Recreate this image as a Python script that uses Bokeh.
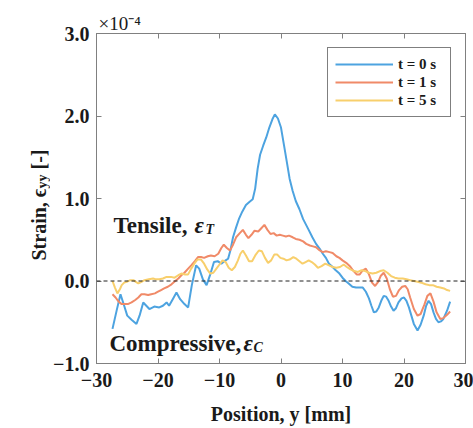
from math import pi
from bokeh.plotting import figure
from bokeh.layouts import row
from bokeh.models import (Range1d, FixedTicker, CustomJSTickFormatter, LinearAxis,
                          Span, Label)
from bokeh.embed import file_html
from bokeh.resources import INLINE

# ---------------- data (strain in units of 1e-4) ----------------
pos_t0 = [-27.4, -26.7, -26.1, -25.5, -25.0, -24.3, -23.5, -23.0, -22.4, -21.9,
          -21.4, -20.6, -19.8, -19.2, -18.6, -18.2, -17.6, -17.0, -16.4, -15.7,
          -15.1, -14.5, -13.8, -13.3, -12.7, -12.1, -11.5, -10.9, -10.3, -9.7,
          -9.2, -8.6, -8.2, -7.8, -7.3, -6.8, -6.3, -5.7, -5.1, -4.6,
          -4.2, -3.8, -3.4, -2.9, -2.4, -1.9, -1.4, -1.0, -0.5, 0.0,
          0.5, 1.0, 1.4, 1.9, 2.4, 3.0, 3.6, 4.5, 5.1, 5.7,
          6.3, 6.8, 7.3, 7.8, 8.4, 8.9, 9.5, 10.0, 10.5, 11.0,
          11.6, 12.2, 12.8, 13.3, 13.8, 14.3, 14.7, 15.1, 15.5, 15.9,
          16.3, 16.7, 17.1, 17.5, 17.9, 18.3, 18.7, 19.1, 19.6, 20.0,
          20.4, 20.8, 21.2, 21.6, 22.2, 22.7, 23.2, 23.6, 24.0, 24.4,
          24.8, 25.2, 25.6, 26.0, 26.4, 27.0, 27.5]
strain_t0 = [-0.58, -0.35, -0.16, -0.30, -0.42, -0.47, -0.52, -0.42, -0.26, -0.30,
             -0.34, -0.31, -0.32, -0.30, -0.26, -0.30, -0.22, -0.14, -0.22, -0.28,
             -0.32, -0.05, 0.19, 0.15, 0.02, -0.05, 0.08, 0.23, 0.24, 0.21,
             0.24, 0.27, 0.38, 0.53, 0.65, 0.76, 0.84, 0.92, 0.96, 0.99,
             1.12, 1.36, 1.53, 1.64, 1.74, 1.86, 1.96, 2.02, 1.97, 1.86,
             1.64, 1.42, 1.24, 1.09, 0.97, 0.87, 0.75, 0.62, 0.53, 0.45,
             0.39, 0.33, 0.28, 0.21, 0.17, 0.13, 0.09, 0.04, 0.00, -0.03,
             -0.07, -0.08, -0.08, -0.08, -0.13, -0.21, -0.30, -0.38, -0.37, -0.32,
             -0.24, -0.18, -0.19, -0.24, -0.31, -0.36, -0.33, -0.26, -0.21, -0.20,
             -0.24, -0.32, -0.42, -0.52, -0.60, -0.53, -0.42, -0.30, -0.24, -0.28,
             -0.38, -0.46, -0.50, -0.49, -0.46, -0.36, -0.25]

pos_t1 = [-27.4, -26.9, -26.4, -25.9, -25.5, -24.9, -24.3, -23.7, -23.2, -22.7,
          -22.2, -21.6, -21.1, -20.5, -20.0, -19.5, -19.0, -18.4, -17.8, -17.2,
          -16.7, -16.2, -15.7, -15.1, -14.6, -14.0, -13.5, -13.0, -12.5, -11.9,
          -11.4, -10.8, -10.2, -9.7, -9.3, -8.8, -8.3, -7.8, -7.3, -6.7,
          -6.2, -5.7, -5.3, -4.8, -4.3, -3.7, -3.2, -2.7, -2.2, -1.7,
          -1.2, -0.7, -0.2, 0.3, 0.8, 1.3, 1.9, 2.4, 3.0, 3.6,
          4.1, 4.7, 5.2, 5.7, 6.3, 6.8, 7.3, 7.9, 8.4, 9.0,
          9.5, 10.0, 10.6, 11.2, 11.7, 12.3, 12.8, 13.3, 13.8, 14.3,
          14.8, 15.3, 15.8, 16.2, 16.7, 17.2, 17.7, 18.2, 18.7, 19.2,
          19.7, 20.2, 20.6, 21.0, 21.6, 22.2, 22.7, 23.3, 23.8, 24.3,
          24.8, 25.3, 25.9, 26.4, 27.0, 27.5]
strain_t1 = [-0.16, -0.20, -0.25, -0.28, -0.28, -0.28, -0.26, -0.23, -0.20, -0.16,
             -0.16, -0.17, -0.16, -0.15, -0.13, -0.11, -0.09, -0.07, -0.04, 0.00,
             0.03, 0.07, 0.10, 0.15, 0.19, 0.24, 0.29, 0.29, 0.28, 0.30,
             0.31, 0.30, 0.33, 0.40, 0.44, 0.40, 0.37, 0.44, 0.53, 0.58,
             0.62, 0.56, 0.52, 0.56, 0.61, 0.60, 0.64, 0.68, 0.62, 0.57,
             0.58, 0.55, 0.56, 0.55, 0.54, 0.55, 0.53, 0.51, 0.50, 0.48,
             0.45, 0.43, 0.42, 0.41, 0.37, 0.35, 0.36, 0.35, 0.34, 0.30,
             0.28, 0.25, 0.22, 0.18, 0.13, 0.08, 0.08, 0.13, 0.15, 0.08,
             -0.02, -0.06, -0.01, 0.06, 0.10, 0.03, -0.10, -0.19, -0.18, -0.11,
             -0.07, -0.06, -0.10, -0.20, -0.34, -0.42, -0.40, -0.29, -0.18, -0.15,
             -0.25, -0.38, -0.46, -0.45, -0.41, -0.37]

pos_t5 = [-27.4, -27.0, -26.6, -26.2, -25.9, -25.5, -25.1, -24.5, -24.0, -23.6,
          -23.2, -22.7, -22.2, -21.5, -20.8, -20.3, -19.8, -19.2, -18.6, -17.9,
          -17.3, -16.7, -16.2, -15.6, -15.1, -14.6, -14.1, -13.6, -13.0, -12.5,
          -12.0, -11.5, -11.0, -10.5, -10.0, -9.5, -9.0, -8.5, -8.0, -7.5,
          -7.0, -6.6, -6.2, -5.7, -5.2, -4.7, -4.1, -3.6, -3.1, -2.6,
          -2.1, -1.6, -1.1, -0.6, -0.1, 0.4, 0.9, 1.4, 2.0, 2.5,
          3.0, 3.5, 4.0, 4.5, 5.0, 5.5, 6.0, 6.6, 7.2, 7.8,
          8.4, 9.0, 9.6, 10.2, 10.7, 11.3, 11.9, 12.5, 13.1, 13.7,
          14.3, 14.9, 15.5, 16.1, 16.7, 17.3, 17.9, 18.5, 19.1, 19.8,
          20.4, 21.0, 21.6, 22.2, 22.8, 23.5, 24.1, 24.7, 25.3, 25.9,
          26.5, 27.0, 27.5]
strain_t5 = [0.00, -0.08, -0.15, -0.10, -0.05, -0.02, -0.01, 0.01, 0.01, -0.01,
             -0.03, -0.01, 0.01, 0.02, 0.03, 0.02, 0.02, 0.03, 0.05, 0.05,
             0.04, 0.07, 0.09, 0.08, 0.08, 0.15, 0.21, 0.26, 0.26, 0.21,
             0.14, 0.09, 0.10, 0.15, 0.20, 0.25, 0.23, 0.16, 0.13, 0.17,
             0.25, 0.33, 0.37, 0.31, 0.24, 0.24, 0.32, 0.37, 0.36, 0.28,
             0.22, 0.25, 0.32, 0.32, 0.28, 0.27, 0.25, 0.26, 0.29, 0.27,
             0.24, 0.21, 0.23, 0.25, 0.23, 0.20, 0.16, 0.18, 0.21, 0.19,
             0.17, 0.16, 0.17, 0.20, 0.17, 0.14, 0.12, 0.11, 0.13, 0.12,
             0.10, 0.09, 0.10, 0.12, 0.13, 0.10, 0.06, 0.04, 0.03, 0.03,
             0.02, 0.01, 0.00, -0.01, -0.02, -0.04, -0.05, -0.05, -0.07, -0.08,
             -0.09, -0.11, -0.12]

series_labels = ["t = 0 s", "t = 1 s", "t = 5 s"]
x_ticks = [-30, -20, -10, 0, 10, 20, 30]
y_ticks = [-1, 0, 1, 2, 3]

# ---------------- styling ----------------
SERIF = "Liberation Serif"
TXT = "#1a1a1a"
AX = "#808080"
COLORS = ["#4da3e0", "#f08a68", "#f8cf6c"]
LEFT_W = 50
W, H = 473, 428
FRAME_TOP, FRAME_BOTTOM = 33, 363   # frame edges in page pixels

p = figure(width=W - LEFT_W, height=H, output_backend="svg", toolbar_location=None,
           x_range=Range1d(-30, 30), y_range=Range1d(-1, 3),
           title="\u00d710\u207b\u2074",
           min_border_left=95 - LEFT_W, min_border_right=8, min_border_top=FRAME_TOP,
           min_border_bottom=H - FRAME_BOTTOM, background_fill_color="white",
           border_fill_color="white")
p.title.align = "left"
p.title.offset = 2
p.title.standoff = 0
p.title.text_font = SERIF
p.title.text_font_style = "normal"
p.title.text_font_size = "19px"
p.title.text_color = TXT
p.xgrid.visible = False
p.ygrid.visible = False
p.outline_line_color = AX
p.outline_line_width = 1

xfmt = CustomJSTickFormatter(code="return (tick < 0 ? '\\u2212' : '') + Math.abs(tick).toFixed(0);")
yfmt = CustomJSTickFormatter(code="return (tick < 0 ? '\\u2212' : '') + Math.abs(tick).toFixed(1);")

def style_axis(ax, show_labels=True):
    ax.axis_line_color = AX
    ax.major_tick_line_color = AX
    ax.major_tick_in = 5
    ax.major_tick_out = 0
    ax.minor_tick_line_color = None
    if show_labels:
        ax.major_label_text_font = SERIF
        ax.major_label_text_font_style = "bold"
        ax.major_label_text_font_size = "20px"
        ax.major_label_text_color = TXT
    else:
        ax.major_label_text_font_size = "0px"
        ax.major_label_text_color = None
        ax.major_label_standoff = 0

xa = p.xaxis[0]
xa.ticker = FixedTicker(ticks=x_ticks)
xa.formatter = xfmt
style_axis(xa)
xa.major_label_standoff = 9
xa.axis_label = "Position, y [mm]"
xa.axis_label_text_font = SERIF
xa.axis_label_text_font_style = "bold"
xa.axis_label_text_font_size = "20px"
xa.axis_label_text_color = TXT
xa.axis_label_standoff = 13

ya = p.yaxis[0]
ya.ticker = FixedTicker(ticks=y_ticks)
ya.formatter = yfmt
style_axis(ya)
ya.major_label_standoff = 7

top = LinearAxis(ticker=FixedTicker(ticks=x_ticks))
style_axis(top, False)
p.add_layout(top, "above")
right = LinearAxis(ticker=FixedTicker(ticks=y_ticks))
style_axis(right, False)
p.add_layout(right, "right")

p.add_layout(Span(location=0, dimension="width", line_color="#222222",
                  line_dash="4 3", line_width=1))

for xs, ys, c, lab in zip([pos_t0, pos_t1, pos_t5], [strain_t0, strain_t1, strain_t5],
                          COLORS, series_labels):
    p.line(xs, ys, line_color=c, line_width=2, legend_label=lab)

lg = p.legend[0]
lg.location = "top_right"
lg.margin = 14
lg.padding = 7
lg.spacing = 0
lg.glyph_width = 58
lg.glyph_height = 18
lg.label_height = 18
lg.label_width = 45
lg.label_standoff = 5
lg.label_text_font = SERIF
lg.label_text_font_style = "bold"
lg.label_text_font_size = "15px"
lg.label_text_color = TXT
lg.border_line_color = "black"
lg.border_line_width = 1
lg.background_fill_color = "white"
lg.background_fill_alpha = 1.0

def lab(fig, x, y, text, size, style="bold", angle=0, xo=0):
    fig.add_layout(Label(x=x, y=y, text=text, text_font=SERIF, text_font_style=style,
                         text_font_size=size, text_color=TXT, angle=angle,
                         x_offset=xo, text_align="left", text_baseline="alphabetic"))

# Tensile / Compressive annotations
lab(p, -27.24, 0.673, "Tensile,", "23px")
lab(p, -27.24, 0.673, "\u03b5", "23px", style="bold italic", xo=81)
lab(p, -27.24, 0.63, "T", "14px", style="bold italic", xo=92)
lab(p, -27.9, -0.758, "Compressive,", "23px")
lab(p, -27.9, -0.758, "\u03b5", "23px", style="bold italic", xo=134)
lab(p, -27.9, -0.80, "C", "14px", style="bold italic", xo=144)

# ---------------- narrow strip holding the rotated y-axis title ----------------
# The row layout aligns this strip's frame with the main frame (rows 33..363),
# so its y range is expressed in page pixels measured from the bottom.
ylab = figure(width=LEFT_W, height=H, output_backend="svg", toolbar_location=None,
              x_range=Range1d(0, LEFT_W), y_range=Range1d(H - FRAME_BOTTOM, H - FRAME_TOP),
              x_axis_location=None, y_axis_location=None,
              min_border_left=0, min_border_right=0, min_border_top=FRAME_TOP,
              min_border_bottom=H - FRAME_BOTTOM, outline_line_color=None,
              background_fill_color="white", border_fill_color="white")
ylab.xgrid.visible = False
ylab.ygrid.visible = False
lab(ylab, 38, H - 260, "Strain, \u03f5", "20px", angle=pi / 2)
lab(ylab, 42, H - 188, "yy", "14px", angle=pi / 2)
lab(ylab, 38, H - 169, "[-]", "20px", angle=pi / 2)

layout = row(ylab, p)
open("out.html", "w").write(file_html(layout, INLINE))
